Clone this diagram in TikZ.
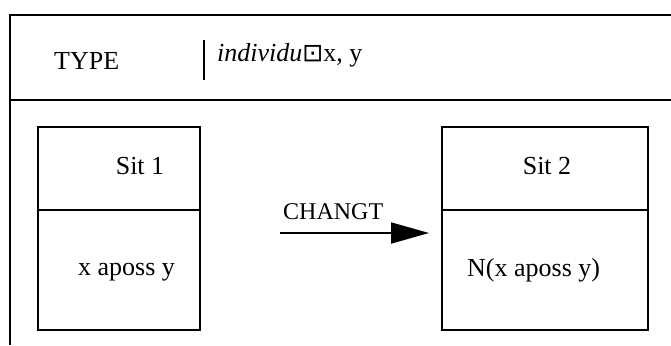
\documentclass[tikz,border=0pt]{standalone}
\usepackage{fontspec}
\setmainfont{Liberation Serif}
\newfontfamily\symfont{DejaVu Sans}
\usetikzlibrary{arrows.meta}
\begin{document}
\begin{tikzpicture}[x=1pt,y=-1pt,
  frame/.style={line width=2pt},
  lbl/.style={font=\fontsize{26}{28}\selectfont, inner sep=0pt, anchor=base west},
  sitbox/.style={draw, line width=1.8pt, minimum height=203pt, inner sep=0pt}]
\useasboundingbox (0,0) rectangle (671,345);
% outer frame
\coordinate (tl) at (10,15);
\coordinate (tr) at (671,15);
\coordinate (bl) at (10,345);
\coordinate (ml) at (10,100);
\coordinate (mr) at (671,100);
\draw[frame] (tr) -- (tl) -- (bl);
\draw[frame] (ml) -- (mr);
% header
\node[lbl] (type) at (54,70) {TYPE};
\coordinate (bt) at (204,40);
\coordinate (bb) at (204,80);
\draw[line width=1.6pt] (bt) -- (bb);
\node[lbl] (ind) at (217,62) {\textit{individu}{\symfont\fontsize{25}{26}\selectfont ⊡}x, y};
% boxes
\node[sitbox, minimum width=162pt] (s1) at (119,228.5) {};
\node[sitbox, minimum width=206pt] (s2) at (545,228.5) {};
\draw[line width=1.8pt] (s1.west |- 0,210) -- (s1.east |- 0,210);
\draw[line width=1.8pt] (s2.west |- 0,210) -- (s2.east |- 0,210);
\node[lbl, anchor=base] (t1) at (140,174) {Sit 1};
\node[lbl, anchor=base] (t2) at (547,174) {Sit 2};
\node[lbl] (b1) at (78,275) {x aposs y};
\node[lbl] (b2) at (467,276) {N(x aposs y)};
% arrow
\node[lbl, font=\fontsize{24}{26}\selectfont] (ch) at (283,219) {CHANGT};
\coordinate (a0) at (280,233);
\coordinate (a1) at (429,233);
\draw[line width=1.8pt, -{Triangle[length=38pt,width=21pt]}] (a0) -- (a1);
\end{tikzpicture}
\end{document}
